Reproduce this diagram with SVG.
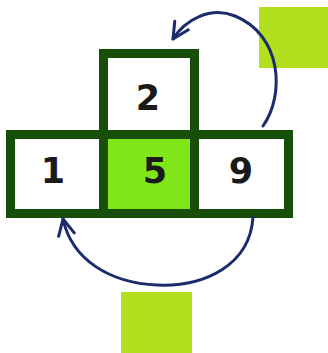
<svg xmlns="http://www.w3.org/2000/svg" width="328" height="353" viewBox="0 0 328 353">
<style>
.cell{fill:#ffffff;stroke:#174e09;stroke-width:9}
.hl{fill:#80e618}
.num{font-family:"DejaVu Sans",Verdana,sans-serif;font-weight:bold;font-size:35px;fill:#1a1a1a;text-anchor:middle}
.sq{fill:#b2e01e}
.arc{fill:none;stroke:#1b2b6b;stroke-width:3;stroke-linecap:round;marker-end:url(#ah)}
</style>
<defs>
<marker id="ah" markerUnits="userSpaceOnUse" viewBox="0 0 20 20" refX="18" refY="10" markerWidth="20" markerHeight="20" orient="auto">
<path d="M2,2 L18,10 L2,18" fill="none" stroke="#1b2b6b" stroke-width="3" stroke-linecap="round" stroke-linejoin="round"/>
</marker>
</defs>
<rect class="sq" x="259" y="7" width="69" height="61"/>
<rect class="sq" x="121" y="292" width="71" height="61"/>
<g id="node-2">
<rect class="cell" x="103.5" y="53.5" width="91" height="81"/>
<text class="num" x="148" y="110">2</text>
</g>
<g id="node-1">
<rect class="cell" x="10.5" y="134.5" width="93" height="79"/>
<text class="num" x="53" y="183">1</text>
</g>
<g id="node-9">
<rect class="cell" x="194.5" y="134.5" width="94" height="79"/>
<text class="num" x="241" y="183">9</text>
</g>
<g id="node-5">
<rect class="cell hl" x="103.5" y="134.5" width="91" height="79"/>
<text class="num" x="155" y="183">5</text>
</g>
<g id="connectors">
<path class="arc" d="M263,126 C285,95 282,35 235,16 C210,6 185,20 173,39"/>
<path class="arc" d="M253,217 C250,265 205,287 157,285 C110,283 72,260 63,219"/>
</g>
</svg>
